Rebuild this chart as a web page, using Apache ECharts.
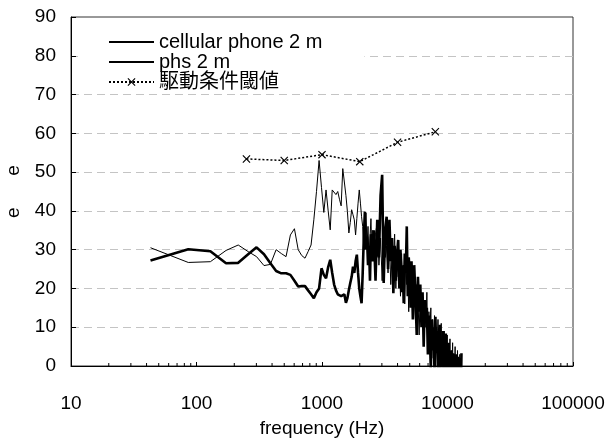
<!DOCTYPE html>
<html>
<head>
<meta charset="utf-8">
<script src="https://cdn.jsdelivr.net/npm/echarts@6/dist/echarts.min.js"></script>
<style>
  html, body { margin: 0; padding: 0; background: #fff; }
  #chart { width: 607px; height: 439px; }
</style>
</head>
<body>
<div id="chart"></div>
<script>
// FFT bin centre frequencies (Hz) shared by both measured spectra
const freqHz = [
  43, 86, 129, 172, 215, 258, 301, 345, 388, 431,
  474, 517, 560, 603, 646, 689, 732, 775, 818, 861,
  904, 948, 991, 1034, 1077, 1120, 1163, 1206, 1249, 1292,
  1335, 1378, 1421, 1464, 1507, 1551, 1594, 1637, 1680, 1723,
  1766, 1809, 1852, 1895, 1938, 1981, 2024, 2067, 2110, 2153,
  2196, 2239, 2283, 2326, 2369, 2412, 2455, 2498, 2541, 2584,
  2670, 2756, 2842, 2929, 3015, 3101, 3187, 3273, 3359, 3446,
  3532, 3618, 3704, 3790, 3876, 3962, 4048, 4135, 4221, 4307,
  4393, 4479, 4565, 4651, 4737, 4823, 4910, 4996, 5082, 5168,
  5298, 5427, 5556, 5685, 5814, 5944, 6073, 6202, 6331, 6460,
  6590, 6719, 6848, 6977, 7107, 7236, 7365, 7494, 7623, 7753,
  7882, 8011, 8140, 8269, 8399, 8528, 8657, 8786, 8915, 9045,
  9174, 9303, 9432, 9561, 9691, 9820, 9949, 10078, 10207, 10337,
  10466, 10595, 10724, 10854, 10983, 11112, 11241, 11370, 11500, 11629,
  11758, 11887, 12016, 12146, 12275, 12404, 12533, 12662, 12792, 12921
];

// cellular phone at 2 m
const cellularLevel = [
  30.5, 26.7, 26.9, 29.8, 31.2, 29.5, 28.2, 25.9, 26.2, 30.0,
  29.0, 28.2, 33.8, 35.4, 30.0, 28.5, 27.8, 29.5, 31.2, 37.7,
  45.0, 53.0, 46.0, 39.6, 45.4, 40.0, 35.1, 45.4, 45.9, 44.2,
  45.0, 43.0, 41.3, 50.9, 50.6, 44.0, 39.8, 34.3, 37.0, 40.3,
  39.0, 37.7, 33.8, 38.0, 42.0, 45.4, 42.0, 38.5, 36.0, 30.0,
  34.0, 39.5, 31.0, 36.0, 27.0, 33.0, 38.0, 29.0, 35.0, 31.0,
  34, 37, 26, 33, 22, 36, 28, 31, 24, 33,
  21, 29, 26, 34, 20, 30, 23, 27, 18, 29,
  22, 26, 16, 28, 21, 25, 14, 24, 18, 22,
  15, 23, 12, 21, 17, 8, 20, 11, 18, 6,
  16, 10, 19, 4, 14, 9, 15, 2, 12, 7,
  13, 0, 10, 5, 12, -2, 9, 4, 11, -3,
  8, 2, 9, -4, 6, 1, 8, -5, 5, -1,
  7, -6, 4, -2, 6, -7, 3, -3, 5, -8,
  2, -4, 4, -9, 1, -5, 3, -8, 0, -6
];

// PHS at 2 m
const phsLevel = [
  27.2, 30.1, 29.6, 26.5, 26.6, 28.8, 30.6, 28.8, 26.5, 24.5,
  23.9, 23.9, 23.5, 22.0, 20.5, 20.6, 20.6, 19.5, 18.5, 17.5,
  19.0, 20.0, 25.2, 23.5, 22.6, 25.5, 27.4, 24.0, 21.0, 19.5,
  18.5, 18.3, 18.0, 17.5, 18.5, 16.3, 17.5, 19.6, 21.4, 23.0,
  25.6, 24.0, 27.0, 28.7, 24.0, 20.0, 18.0, 16.2, 24.0, 33.0,
  39.8, 30.0, 33.4, 26.0, 31.0, 22.0, 34.0, 30.0, 27.0, 35.0,
  22, 37.7, 28, 44, 49.3, 21.4, 35, 38.5, 25, 37.7,
  27, 33, 18.8, 31, 22, 29, 32.5, 20, 30, 19,
  26, 16.2, 29, 24, 36, 18, 28, 24, 15, 27,
  12, 26, 18, 8, 23, 14, 21, 10, 19, 5,
  17, 11, 15, 3, 13, 7.6, -1, 12, 4, 10,
  -2, 12.7, 3.3, 9, -3, 8, 10.6, -2, 7, 1,
  9, -4, 6, 0, 8.4, -3, 5, -1, 6, -5,
  -2, 4, -6, 3, -3, 3.3, -5, 2, -4, 3,
  -6, 2, -3, 2.4, -5, 1, -4, 2, -6, 3.3
];

// drive-condition threshold at octave bands
const thresholdFreq = [250, 500, 1000, 2000, 4000, 8000];
const thresholdLevel = [53.4, 53.0, 54.5, 52.7, 57.7, 60.4];

// series names
const seriesNames = ['cellular phone 2 m', 'phs 2 m', '駆動条件閾値'];

// minor tick positions on the log frequency axis
const minorTicks = [
  20, 30, 40, 50, 60, 70, 80, 90,
  200, 300, 400, 500, 600, 700, 800, 900,
  2000, 3000, 4000, 5000, 6000, 7000, 8000, 9000,
  20000, 30000, 40000, 50000, 60000, 70000, 80000, 90000
];

const FONT = "'Liberation Sans', Arial, 'Noto Sans CJK JP', sans-serif";
const pair = (xs, ys) => xs.map((x, i) => [x, ys[i]]);

const chart = echarts.init(document.getElementById('chart'), null, { renderer: 'canvas' });

chart.setOption({
  animation: false,
  backgroundColor: '#fff',
  textStyle: { fontFamily: FONT },
  grid: {
    left: 71, right: 34, top: 17, bottom: 73,
    outerBoundsMode: 'none',
    containLabel: false,
    show: true, borderColor: '#333', borderWidth: 1, backgroundColor: 'transparent'
  },
  legend: {
    orient: 'vertical',
    left: 78, top: 28,
    padding: [4, 42, 2, 30],
    backgroundColor: '#fff',
    itemWidth: 45, itemHeight: 10, itemGap: 0,
    selectedMode: false,
    textStyle: { fontSize: 20, color: '#000', fontFamily: FONT },
    data: [
      // plain line samples for the two spectra, line with marker for the threshold
      { name: seriesNames[0], itemStyle: { opacity: 0 } },
      { name: seriesNames[1], itemStyle: { opacity: 0 } },
      { name: seriesNames[2] }
    ]
  },
  xAxis: {
    type: 'log',
    logBase: 10,
    min: 10, max: 100000,
    splitNumber: 4,
    name: 'frequency (Hz)',
    nameLocation: 'middle',
    nameGap: 53,
    nameTextStyle: { fontSize: 19, color: '#000', fontFamily: FONT },
    axisLine: { lineStyle: { color: '#000', width: 1 } },
    axisTick: { inside: true, length: 4, lineStyle: { color: '#000' } },
    minorTick: { show: false },
    axisLabel: { fontSize: 19, color: '#000', margin: 28, fontFamily: FONT,
                 formatter: v => String(v) },
    splitLine: { show: false }
  },
  yAxis: {
    type: 'value',
    min: 0, max: 90, interval: 10,
    name: 'e      e',
    nameLocation: 'middle',
    nameRotate: 90,
    nameGap: 48,
    nameTextStyle: { fontSize: 19, color: '#000', fontFamily: FONT },
    axisLine: { show: true, lineStyle: { color: '#000', width: 1 } },
    axisTick: { show: true, inside: true, length: 5, lineStyle: { color: '#000' } },
    axisLabel: { fontSize: 19, color: '#000', margin: 15, fontFamily: FONT, padding: [6, 0, 0, 0] },
    splitLine: {
      show: true, showMinLine: false, showMaxLine: false,
      lineStyle: { color: '#c4c4c4', width: 1, type: [8, 5] }
    }
  },
  series: [
    {
      name: seriesNames[0],
      type: 'line',
      data: pair(freqHz, cellularLevel),
      showSymbol: false, symbol: 'none',
      lineStyle: { color: '#000', width: 1 },
      itemStyle: { color: '#000' },
      clip: true, z: 2
    },
    {
      name: seriesNames[1],
      type: 'line',
      data: pair(freqHz, phsLevel),
      showSymbol: false, symbol: 'none',
      lineStyle: { color: '#000', width: 2.6 },
      itemStyle: { color: '#000' },
      clip: true, z: 3
    },
    {
      name: seriesNames[2],
      type: 'line',
      data: pair(thresholdFreq, thresholdLevel),
      symbol: 'path://M0,1L1,0L5,4L9,0L10,1L6,5L10,9L9,10L5,6L1,10L0,9L4,5Z',
      symbolSize: 8,
      showSymbol: true,
      lineStyle: { color: '#000', width: 1.5, type: [2, 2] },
      itemStyle: { color: '#000' },
      z: 4
    },
    {
      // short inward minor ticks at 2..9 of every decade
      type: 'custom',
      silent: true,
      clip: false,
      z: 5,
      data: minorTicks.map(v => [v, 0]),
      renderItem: (params, api) => {
        const p = api.coord([api.value(0), 0]);
        return {
          type: 'line',
          shape: { x1: p[0], y1: p[1], x2: p[0], y2: p[1] - 3 },
          style: { stroke: '#000', lineWidth: 1 }
        };
      }
    }
  ]
});
</script>
</body>
</html>
